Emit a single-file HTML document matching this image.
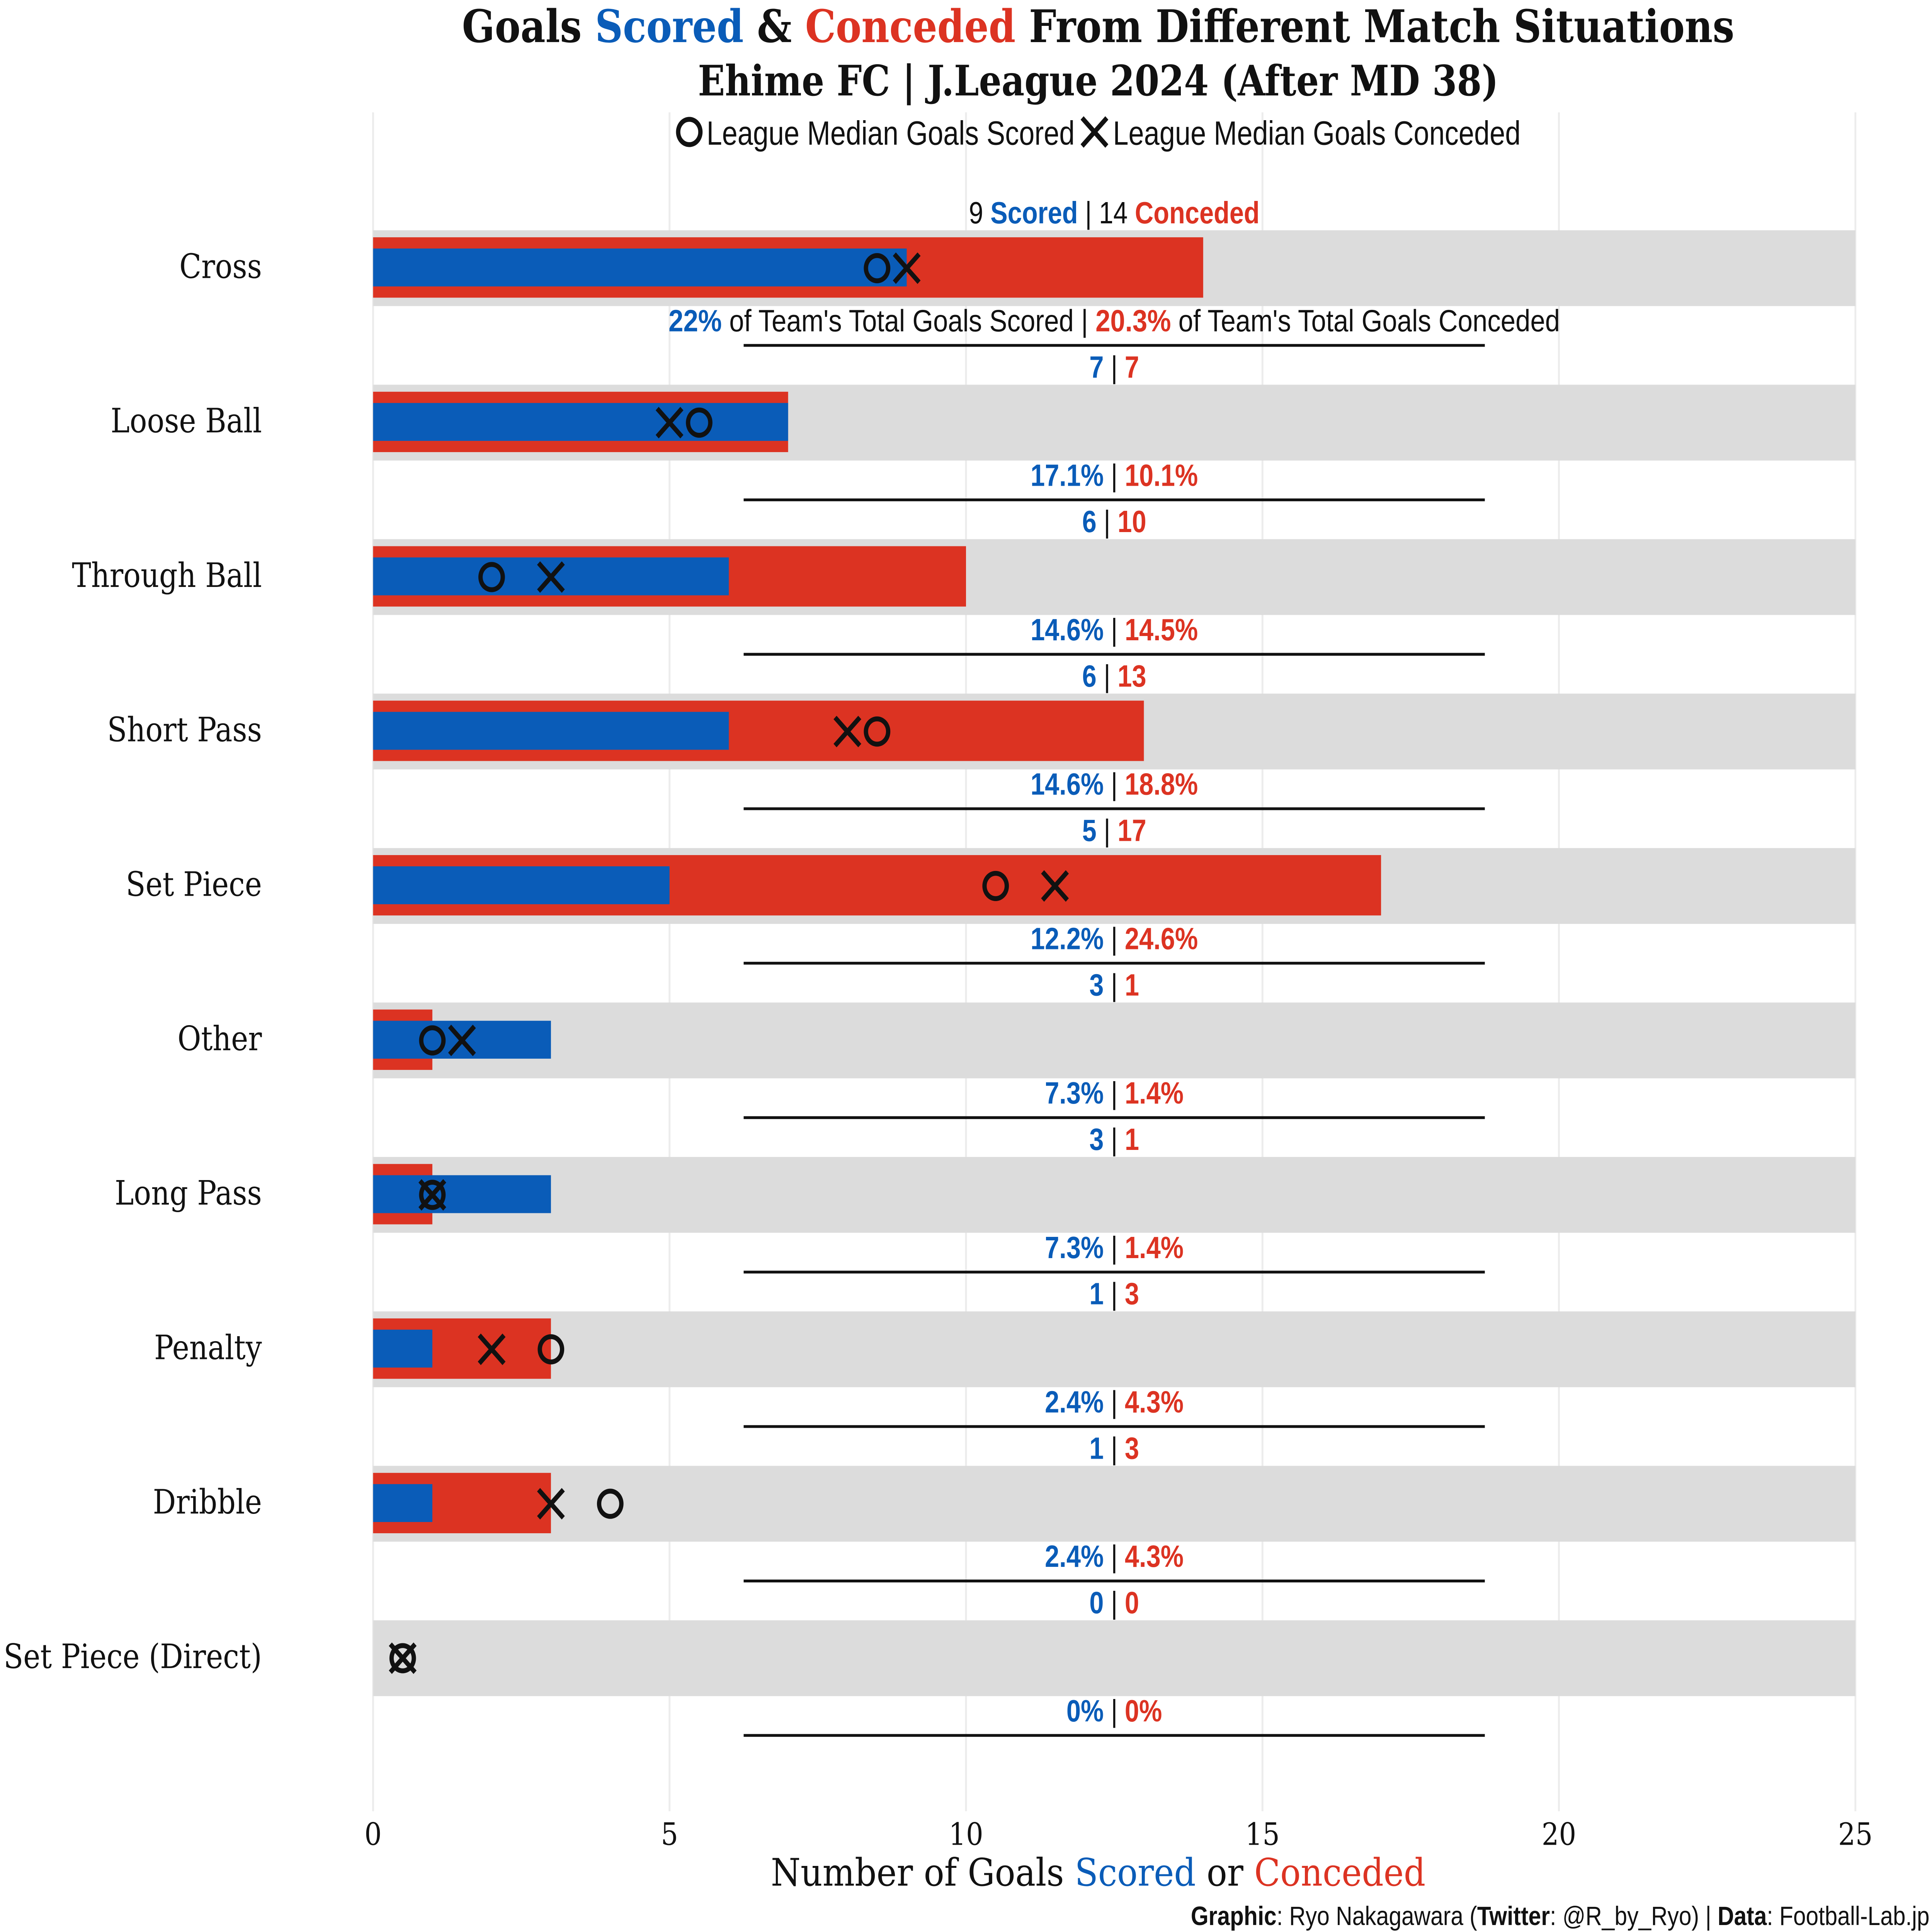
<!DOCTYPE html>
<html><head><meta charset="utf-8">
<style>
html,body{margin:0;padding:0;background:#fff;width:100%;height:100%;overflow:hidden;}
svg{display:block;width:100vw;height:100vh;}
.serif{font-family:"DejaVu Serif","Liberation Serif",serif;}
.cond{font-family:"Liberation Sans Narrow","Liberation Sans",sans-serif;}
</style></head>
<body>
<svg id="chart" viewBox="0 0 1564 1376" preserveAspectRatio="none" xmlns="http://www.w3.org/2000/svg">
<rect width="1564" height="1376" fill="#fff"/>
<g id="grid"></g>
<text class="serif" x="889" y="30" text-anchor="middle" font-size="32" font-weight="bold" fill="#111" textLength="1030" lengthAdjust="spacingAndGlyphs">Goals <tspan fill="#0a5cb8">Scored</tspan> &amp; <tspan fill="#dc3322">Conceded</tspan> From Different Match Situations</text>
<text class="serif" x="889" y="68" text-anchor="middle" font-size="30" font-weight="bold" fill="#111" textLength="648" lengthAdjust="spacingAndGlyphs">Ehime FC | J.League 2024 (After MD 38)</text>
<g>
<circle cx="558" cy="94" r="9" fill="none" stroke="#111" stroke-width="3.5"/>
<text class="cond" x="572" y="103" font-size="24" fill="#111" textLength="298" lengthAdjust="spacingAndGlyphs">League Median Goals Scored</text>
<path d="M876 84 L896 104 M896 84 L876 104" stroke="#111" stroke-width="3.5"/>
<text class="cond" x="901" y="103" font-size="24" fill="#111" textLength="330" lengthAdjust="spacingAndGlyphs">League Median Goals Conceded</text>
</g>
<g id="rows"></g>
<g id="xticks"></g>
<text class="serif" x="889" y="1343" text-anchor="middle" font-size="27" fill="#111" textLength="530" lengthAdjust="spacingAndGlyphs">Number of Goals <tspan fill="#0a5cb8">Scored</tspan> or <tspan fill="#dc3322">Conceded</tspan></text>
<text class="cond" x="1562" y="1371" text-anchor="end" font-size="19" fill="#111" textLength="598" lengthAdjust="spacingAndGlyphs"><tspan font-weight="bold">Graphic</tspan>: Ryo Nakagawara (<tspan font-weight="bold">Twitter</tspan>: @R_by_Ryo) | <tspan font-weight="bold">Data</tspan>: Football-Lab.jp</text>
</svg>
<script>
const categories=["Cross","Loose Ball","Through Ball","Short Pass","Set Piece","Other","Long Pass","Penalty","Dribble","Set Piece (Direct)"];
const scored=[9,7,6,6,5,3,3,1,1,0];
const conceded=[14,7,10,13,17,1,1,3,3,0];
const medianScored=[8.5,5.5,2,8.5,10.5,1,1,3,4,0.5];
const medianConceded=[9,5,3,8,11.5,1.5,1,2,3,0.5];
const pctScored=["22%","17.1%","14.6%","14.6%","12.2%","7.3%","7.3%","2.4%","2.4%","0%"];
const pctConceded=["20.3%","10.1%","14.5%","18.8%","24.6%","1.4%","1.4%","4.3%","4.3%","0%"];
const xTicks=[0,5,10,15,20,25];

const NS="http://www.w3.org/2000/svg";
const X0=302,X1=1502,XMAX=25;
const xs=v=>X0+(v/XMAX)*(X1-X0);
const ys=i=>190+i*110;
const BLUE="#0a5cb8",RED="#dc3322";
function mk(tag,attrs,parent){const e=document.createElementNS(NS,tag);for(const k in attrs)e.setAttribute(k,attrs[k]);parent.appendChild(e);return e;}
const grid=document.getElementById('grid'),rows=document.getElementById('rows'),xt=document.getElementById('xticks');
xTicks.forEach(t=>{
  const l=mk('line',{x1:xs(t),x2:xs(t),y1:80,y2:1290,stroke:'#ececec','stroke-width':1.5},grid);
  
  
  const tx=mk('text',{x:xs(t),y:1314,'text-anchor':'middle','font-size':22,fill:'#111',class:'serif'},xt);
  tx.textContent=t;
  
  
});
categories.forEach((c,i)=>{
  const y=ys(i);
  const slug=c.toLowerCase().replace(/[^a-z]+/g,'-').replace(/-$/,'');
  const g=mk('g',{},rows);
  
  
  const lab=mk('text',{x:0,y:0,transform:`translate(212,${y+8}) scale(0.97,1)`,'text-anchor':'end','font-size':24,fill:'#111',class:'serif'},g);
  lab.textContent=c;
  
  
  const bg=mk('rect',{x:X0,y:y-26,width:X1-X0,height:54,fill:'#dcdcdc'},g);
  
  
  const rb=mk('rect',{x:X0,y:y-21,width:xs(conceded[i])-X0,height:43,fill:RED},g);
  
  
  const bb=mk('rect',{x:X0,y:y-13,width:xs(scored[i])-X0,height:27,fill:BLUE},g);
  
  
  const cx=xs(medianScored[i]);
  const ci=mk('circle',{cx:cx,cy:y+1,r:9,fill:'none',stroke:'#111','stroke-width':3.5},g);
  
  
  const xx=xs(medianConceded[i]);
  const cr=mk('path',{d:`M${xx-10} ${y-9} L${xx+10} ${y+11} M${xx+10} ${y-9} L${xx-10} ${y+11}`,stroke:'#111','stroke-width':3.5},g);
  
  
  const ct=mk('text',{x:0,y:0,transform:`translate(902,${y-31}) scale(0.95,1)`,'text-anchor':'middle','font-size':22,class:'cond','font-weight':'bold'},g);
  
  
  const pt=mk('text',{x:0,y:0,transform:`translate(902,${y+46}) scale(${i===0?0.98:0.95},1)`,'text-anchor':'middle','font-size':22,class:'cond','font-weight':'bold'},g);
  
  
  if(i===0){
    ct.setAttribute('font-weight','normal');
    ct.innerHTML=`<tspan fill="#111">${scored[i]} </tspan><tspan fill="${BLUE}" font-weight="bold">Scored</tspan><tspan fill="#111"> | ${conceded[i]} </tspan><tspan fill="${RED}" font-weight="bold">Conceded</tspan>`;
    pt.setAttribute('font-weight','normal');
    pt.innerHTML=`<tspan fill="${BLUE}" font-weight="bold">${pctScored[i]}</tspan><tspan fill="#111"> of Team's Total Goals Scored | </tspan><tspan fill="${RED}" font-weight="bold">${pctConceded[i]}</tspan><tspan fill="#111"> of Team's Total Goals Conceded</tspan>`;
  } else {
    ct.innerHTML=`<tspan fill="${BLUE}">${scored[i]}</tspan><tspan fill="#111" font-weight="normal"> | </tspan><tspan fill="${RED}">${conceded[i]}</tspan>`;
    pt.innerHTML=`<tspan fill="${BLUE}">${pctScored[i]}</tspan><tspan fill="#111" font-weight="normal"> | </tspan><tspan fill="${RED}">${pctConceded[i]}</tspan>`;
  }
  const ln=mk('line',{x1:602,x2:1202,y1:y+56,y2:y+56,stroke:'#111','stroke-width':2},g);
  
  
});
</script>
</body></html>
